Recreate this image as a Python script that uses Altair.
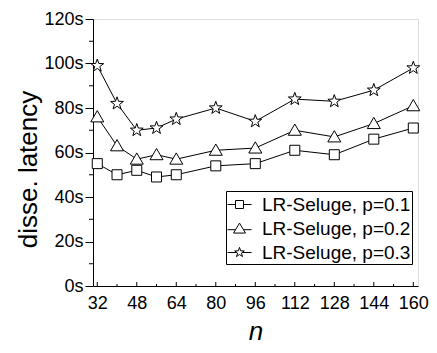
import altair as alt
import pandas as pd

# ---- data ----
n_values = [32, 40, 48, 56, 64, 80, 96, 112, 128, 144, 160]
series_names = ["LR-Seluge, p=0.1", "LR-Seluge, p=0.2", "LR-Seluge, p=0.3"]
lat_p01 = [55, 50, 52, 49, 50, 54, 55, 61, 59, 66, 71]
lat_p02 = [76, 63, 57, 59, 57, 61, 62, 70, 67, 73, 81]
lat_p03 = [99, 82, 70, 71, 75, 80, 74, 84, 83, 88, 98]

x_major_ticks = [32, 48, 64, 80, 96, 112, 128, 144, 160]
x_minor_ticks = [40, 56, 72, 88, 104, 120, 136, 152]
y_major_ticks = [0, 20, 40, 60, 80, 100, 120]
y_minor_ticks = [10, 30, 50, 70, 90, 110]

rows = []
for name, vals in zip(series_names, [lat_p01, lat_p02, lat_p03]):
    for n, v in zip(n_values, vals):
        rows.append({"n": n, "latency": v, "series": name})
df = pd.DataFrame(rows)

FONT = "Liberation Sans"
W, H = 325, 267

# marker shapes (unit path scaled by sqrt(size)/2)
SQ = "M-1,-1H1V1H-1Z"
TRI = "M0,-1.25L1.3,1L-1.3,1Z"
STAR = ("M0,-1.35L0.32,-0.44L1.28,-0.42L0.51,0.17L0.79,1.09L0,0.54"
        "L-0.79,1.09L-0.51,0.17L-1.28,-0.42L-0.32,-0.44Z")
# legend shapes: line - symbol - line, spanning the full unit width
LSQ = "M-1,0H-0.333M0.333,0H1M-0.333,-0.333H0.333V0.333H-0.333Z"
LTRI = "M-1,0.1H-0.33M0.33,0.1H1M0,-0.45L0.5,0.38L-0.5,0.38Z"
LSTAR = ("M-1,0H-0.23M0.23,0H1"
         "M0,-0.42L0.1,-0.14L0.4,-0.13L0.16,0.05L0.25,0.34L0,0.17"
         "L-0.25,0.34L-0.16,0.05L-0.4,-0.13L-0.1,-0.14Z")

xscale = alt.Scale(domain=[30.27, 161.9], nice=False, zero=False)
yscale = alt.Scale(domain=[0, 120], nice=False)

x_axis = alt.Axis(
    values=x_major_ticks, title="n", titleFont=FONT, titleFontSize=26,
    titleFontStyle="italic", titleFontWeight="normal", titleColor="black",
    titleX=W / 2, titleY=58, titleBaseline="bottom",
    labelFont=FONT, labelFontSize=18, labelColor="black", labelPadding=8,
    tickSize=0, domainColor="black", domainWidth=1, grid=False,
    labelFlush=False, labelOverlap=False,
)
y_axis = alt.Axis(
    values=y_major_ticks, labelExpr="datum.value + 's'",
    title="disse. latency", titleFont=FONT, titleFontSize=26,
    titleFontWeight="normal", titleColor="black", titleAngle=270,
    titleX=-57, titleY=150, titleBaseline="alphabetic", titleAlign="center",
    labelFont=FONT, labelFontSize=18, labelColor="black", labelPadding=2,
    tickSize=8, tickColor="black", tickWidth=1,
    domainColor="black", domainWidth=1, grid=False, labelFlush=False,
)


def xq(field):
    return alt.X(f"{field}:Q", scale=xscale, axis=x_axis, title="n")


def yq(field):
    return alt.Y(f"{field}:Q", scale=yscale, axis=y_axis, title="disse. latency")


lines = alt.Chart(df).mark_line(color="black", strokeWidth=1).encode(
    x=xq("n"), y=yq("latency"), detail="series:N"
)

points = alt.Chart(df).mark_point(
    filled=True, fill="white", stroke="black", strokeWidth=1, opacity=1, size=100
).encode(
    x=xq("n"), y=yq("latency"),
    shape=alt.Shape("series:N", scale=alt.Scale(domain=series_names, range=[SQ, TRI, STAR]),
                    legend=None),
)

# legend-only layer: no rows survive the filter, the legend comes from the scale domain
legend_layer = alt.Chart(df).transform_filter("false").mark_point(
    filled=True, fill="white", stroke="black", strokeWidth=1, opacity=1, size=576
).encode(
    x=xq("n"), y=yq("latency"),
    shape=alt.Shape(
        "series:N",
        scale=alt.Scale(domain=series_names, range=[LSQ, LTRI, LSTAR]),
        legend=alt.Legend(
            title=None, orient="none", legendX=133, legendY=172,
            strokeColor="black", fillColor="white", padding=1,
            labelFont=FONT, labelFontSize=19, labelColor="black",
            labelOffset=10, rowPadding=1, symbolSize=576,
            symbolStrokeWidth=1,
        ),
    ),
)

x_major_df = pd.DataFrame({"n": x_major_ticks})
x_minor_df = pd.DataFrame({"n": x_minor_ticks})
y_minor_df = pd.DataFrame({"latency": y_minor_ticks})

x_major_rules = alt.Chart(x_major_df).mark_rule(color="black", strokeWidth=1).encode(
    x=xq("n"), y=alt.value(H), y2=alt.value(H - 4),
)
x_minor_rules = alt.Chart(x_minor_df).mark_rule(color="black", strokeWidth=1).encode(
    x=xq("n"), y=alt.value(H), y2=alt.value(H - 2),
)
y_minor_rules = alt.Chart(y_minor_df).mark_rule(color="black", strokeWidth=1).encode(
    y=yq("latency"), x=alt.value(0), x2=alt.value(-4),
)

chart = alt.layer(
    lines, points, legend_layer, x_major_rules, x_minor_rules, y_minor_rules
).resolve_scale(shape="independent").resolve_legend(shape="independent").properties(
    width=W, height=H,
    autosize=alt.AutoSizeParams(type="none"),
    padding={"left": 85, "top": 11, "right": 11, "bottom": 59},
).configure_view(stroke=None).configure(background="white")

chart.save("out.html", embed_options={"renderer": "svg", "actions": False})
